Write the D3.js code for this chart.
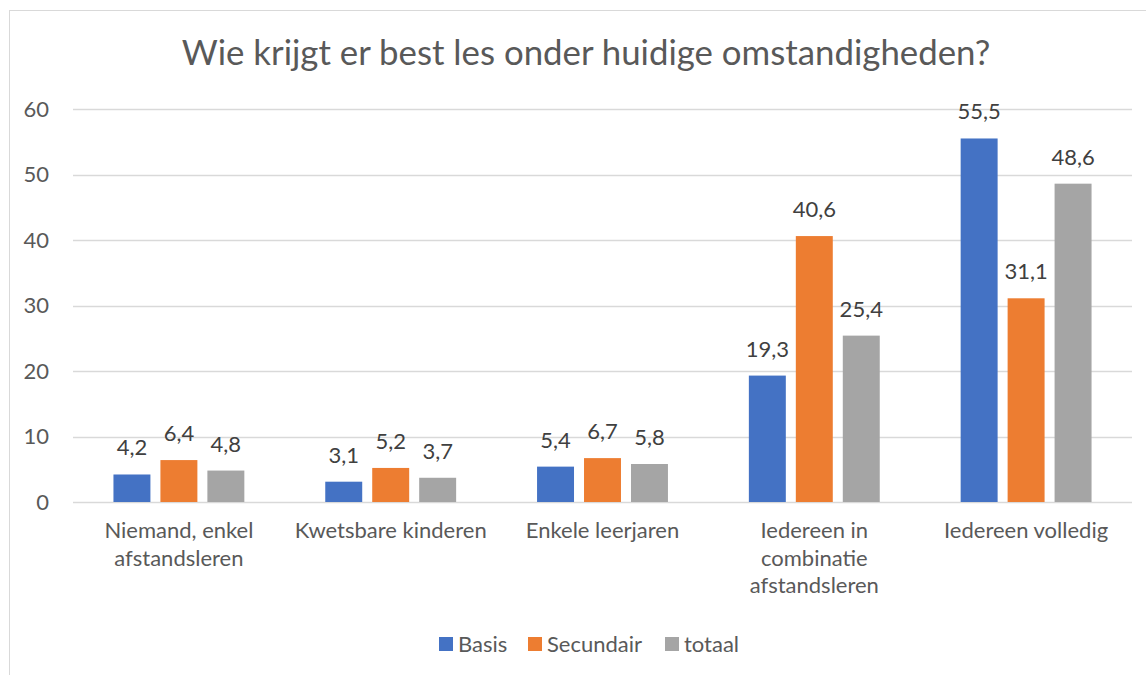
<!DOCTYPE html>
<html>
<head>
<meta charset="utf-8">
<script src="https://cdn.jsdelivr.net/npm/d3@7"></script>
<style>
  body { margin: 0; background: #fff; }
  svg { display: block; font-family: Lato, "Open Sans", sans-serif; }
</style>
</head>
<body>
<div id="chart"></div>
<script>
// data
const categories = [
  ["Niemand, enkel", "afstandsleren"],
  ["Kwetsbare kinderen"],
  ["Enkele leerjaren"],
  ["Iedereen in", "combinatie", "afstandsleren"],
  ["Iedereen volledig"],
];
const seriesNames = ["Basis", "Secundair", "totaal"];
const basis = [4.2, 3.1, 5.4, 19.3, 55.5];
const secundair = [6.4, 5.2, 6.7, 40.6, 31.1];
const totaal = [4.8, 3.7, 5.8, 25.4, 48.6];
const yTicks = [0, 10, 20, 30, 40, 50, 60];
const colors = ["#4472C4", "#ED7D31", "#A5A5A5"];

const width = 1146, height = 675;
const margin = { left: 73, right: 14, top: 109, bottom: 173 };
const fs = 22;

const svg = d3.select("#chart").append("svg")
  .attr("width", width).attr("height", height);

// chart border
svg.append("rect")
  .attr("x", 9.5).attr("y", 10.5)
  .attr("width", 1200).attr("height", 1000)
  .attr("fill", "none").attr("stroke", "#d9d9d9");

svg.append("text")
  .attr("x", 586).attr("y", 65)
  .attr("text-anchor", "middle")
  .attr("font-size", 34.8)
  .attr("fill", "#595959")
  .text("Wie krijgt er best les onder huidige omstandigheden?");

const x0 = d3.scaleBand()
  .domain(d3.range(categories.length))
  .range([margin.left, width - margin.right])
  .paddingInner(0.382).paddingOuter(0.191);
const x1 = d3.scaleBand()
  .domain(seriesNames)
  .range([0, x0.bandwidth()])
  .paddingInner(0.213);
const y = d3.scaleLinear().domain([0, 60]).range([height - margin.bottom, margin.top]);

// grid
svg.append("g").selectAll("line").data(yTicks).join("line")
  .attr("x1", margin.left).attr("x2", width - margin.right)
  .attr("y1", d => Math.round(y(d)) + 0.5).attr("y2", d => Math.round(y(d)) + 0.5)
  .attr("stroke", "#d9d9d9").attr("stroke-width", 1.5);

svg.append("g").selectAll("text").data(yTicks).join("text")
  .attr("x", 49).attr("y", d => y(d)).attr("dy", "0.35em")
  .attr("text-anchor", "end").attr("font-size", fs).attr("fill", "#595959")
  .text(d => d);

const rows = categories.map((c, i) => ({
  i, values: [basis[i], secundair[i], totaal[i]].map((v, k) => ({ k, v }))
}));

const fmt = v => d3.format(".1f")(v).replace(".", ",");

const g = svg.append("g").selectAll("g").data(rows).join("g")
  .attr("transform", d => `translate(${x0(d.i)},0)`);

g.selectAll("rect").data(d => d.values).join("rect")
  .attr("x", d => x1(seriesNames[d.k]))
  .attr("y", d => y(d.v))
  .attr("width", x1.bandwidth())
  .attr("height", d => y(0) - y(d.v))
  .attr("fill", d => colors[d.k]);

g.selectAll("text.val").data(d => d.values).join("text")
  .attr("class", "val")
  .attr("x", d => x1(seriesNames[d.k]) + x1.bandwidth() / 2)
  .attr("y", d => y(d.v) - 19)
  .attr("text-anchor", "middle").attr("font-size", fs).attr("fill", "#404040")
  .text(d => fmt(d.v));

// category labels
const cat = svg.append("g").selectAll("text").data(categories).join("text")
  .attr("x", (d, i) => x0(i) + x0.bandwidth() / 2)
  .attr("y", 538)
  .attr("text-anchor", "middle").attr("font-size", fs).attr("fill", "#595959");
cat.selectAll("tspan").data(d => d).join("tspan")
  .attr("x", function () { return this.parentNode.getAttribute("x"); })
  .attr("dy", (d, j) => (j === 0 ? 0 : 27.5))
  .text(d => d);

// legend
const legendX = [439, 528, 665];
const lg = svg.append("g").selectAll("g").data(seriesNames).join("g")
  .attr("transform", (d, i) => `translate(${legendX[i]},637)`);
lg.append("rect").attr("width", 14).attr("height", 14)
  .attr("fill", (d, i) => colors[i]);
lg.append("text").attr("x", 19).attr("y", 7).attr("dy", "0.35em")
  .attr("font-size", fs).attr("fill", "#595959")
  .text(d => d);
</script>
</body>
</html>
